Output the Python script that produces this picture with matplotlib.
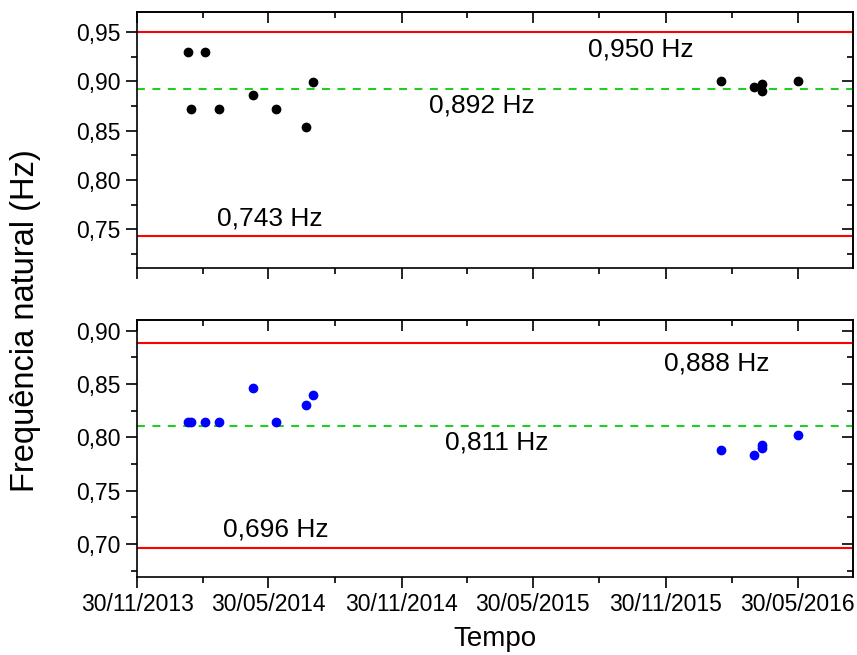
import matplotlib
matplotlib.use("Agg")
import matplotlib.pyplot as plt
import matplotlib.dates as mdates
from matplotlib.ticker import MultipleLocator, FixedLocator, FuncFormatter
import pandas as pd

plt.rcParams['font.family'] = ['Liberation Sans', 'DejaVu Sans']

# Measurement dates (shared by both modes)
dates = pd.to_datetime([
    '2014-02-09', '2014-02-13', '2014-03-04', '2014-03-23', '2014-05-09',
    '2014-06-10', '2014-07-21', '2014-07-31', '2016-02-14', '2016-03-30',
    '2016-04-10', '2016-04-11', '2016-05-30'])

# Natural frequencies (Hz)
freq_mode1 = [0.930, 0.872, 0.930, 0.872, 0.886, 0.872, 0.854, 0.899,
              0.900, 0.894, 0.890, 0.897, 0.900]
freq_mode2 = [0.814, 0.814, 0.814, 0.814, 0.846, 0.814, 0.830, 0.840,
              0.788, 0.783, 0.790, 0.793, 0.802]

# Reference levels: upper limit, mean, lower limit
levels_mode1 = [0.950, 0.892, 0.743]
levels_mode2 = [0.888, 0.811, 0.696]

tick_dates = pd.to_datetime(['2013-11-30', '2014-05-30', '2014-11-30',
                             '2015-05-30', '2015-11-30', '2016-05-30'])
tick_labels = ['30/11/2013', '30/05/2014', '30/11/2014', '30/05/2015',
               '30/11/2015', '30/05/2016']

x_min = pd.Timestamp('2013-11-30')
x_max = pd.Timestamp('2016-08-14')

fig = plt.figure(figsize=(8.57, 6.55), dpi=100)
ax1 = fig.add_axes([0.1599, 0.5908, 0.8354, 0.3909])
ax2 = fig.add_axes([0.1599, 0.1196, 0.8354, 0.3919])

major_num = mdates.date2num(tick_dates)
minor_num = [(a + b) / 2 for a, b in zip(major_num[:-1], major_num[1:])]


def style_axis(ax, ylim, show_xlabels):
    ax.set_xlim(x_min, x_max)
    ax.set_ylim(*ylim)
    ax.xaxis.set_major_locator(FixedLocator(major_num))
    ax.xaxis.set_minor_locator(FixedLocator(minor_num))
    if show_xlabels:
        ax.set_xticklabels(tick_labels)
    else:
        ax.set_xticklabels([])
    ax.yaxis.set_major_locator(MultipleLocator(0.05))
    ax.yaxis.set_minor_locator(MultipleLocator(0.025))
    ax.yaxis.set_major_formatter(FuncFormatter(lambda v, p: f"{v:.2f}".replace('.', ',')))
    ax.tick_params(which='major', direction='out', length=8, width=1.2,
                   labelsize=16.5, pad=4, colors='black')
    ax.tick_params(which='minor', direction='out', length=4.5, width=1.2)
    for s in ax.spines.values():
        s.set_linewidth(1.2)
    # mirrored inward ticks on top and right
    top = ax.secondary_xaxis('top')
    top.xaxis.set_major_locator(FixedLocator(major_num))
    top.xaxis.set_minor_locator(FixedLocator(minor_num))
    top.tick_params(which='major', direction='in', length=8, width=1.2, labeltop=False)
    top.tick_params(which='minor', direction='in', length=4.5, width=1.2)
    top.spines['top'].set_linewidth(1.2)
    right = ax.secondary_yaxis('right')
    right.yaxis.set_major_locator(MultipleLocator(0.05))
    right.yaxis.set_minor_locator(MultipleLocator(0.025))
    right.tick_params(which='major', direction='in', length=8, width=1.2, labelright=False)
    right.tick_params(which='minor', direction='in', length=4.5, width=1.2)
    right.spines['right'].set_linewidth(1.2)


def draw_panel(ax, values, levels, color, label_pos):
    upper, mean, lower = levels
    ax.axhline(upper, color='#ff0000', lw=1.5)
    ax.axhline(lower, color='#ff0000', lw=1.5)
    ax.axhline(mean, color='#22cc22', lw=1.5, ls=(0, (3.8, 3.6)))
    ax.plot(dates, values, 'o', color=color, markersize=6, zorder=3)
    for lev, (xd, yv) in zip(levels, label_pos):
        ax.text(pd.Timestamp(xd), yv, f"{lev:.3f}".replace('.', ',') + ' Hz',
                ha='center', va='center', fontsize=19)


draw_panel(ax1, freq_mode1, levels_mode1, 'black',
           [('2015-10-26', 0.9318), ('2015-03-21', 0.876), ('2014-06-01', 0.7605)])
draw_panel(ax2, freq_mode2, levels_mode2, '#0000ff',
           [('2016-02-08', 0.8694), ('2015-04-10', 0.7947), ('2014-06-09', 0.7132)])

style_axis(ax1, (0.7108, 0.9703), False)
style_axis(ax2, (0.6694, 0.9100), True)

ax2.set_xlabel('Tempo', fontsize=20, labelpad=7)
fig.text(0.03, 0.51, 'Frequência natural (Hz)', rotation=90, ha='center',
         va='center', fontsize=23.5)

fig.savefig('out.png', dpi=100)
